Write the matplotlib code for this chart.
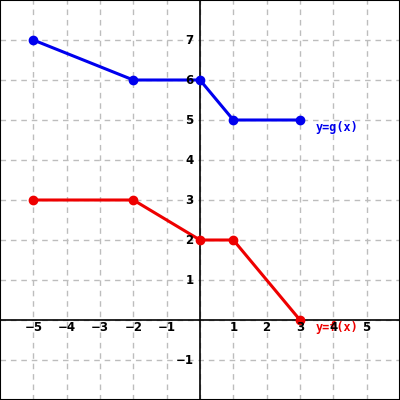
import matplotlib
matplotlib.use("Agg")
import matplotlib.pyplot as plt

# piecewise-linear graphs
f_x = [-5, -2, 0, 1, 3]
f_y = [3, 3, 2, 2, 0]
g_x = [-5, -2, 0, 1, 3]
g_y = [7, 6, 6, 5, 5]

x_ticks = [-5, -4, -3, -2, -1, 1, 2, 3, 4, 5]
y_ticks = [-1, 1, 2, 3, 4, 5, 6, 7]

fig = plt.figure(figsize=(4, 4), dpi=100)
ax = fig.add_axes([0, 0, 1, 1])
ax.set_xlim(-6, 6)
ax.set_ylim(-2, 8)

# dashed grid at every integer
for gx in range(-5, 6):
    ax.axvline(gx, color="#bdbdbd", lw=1, ls=(0, (4, 3.5)), zorder=0)
for gy in range(-1, 8):
    ax.axhline(gy, color="#bdbdbd", lw=1, ls=(0, (4, 3.5)), zorder=0)

ax.axhline(0, color="black", lw=1.2, zorder=1)
ax.axvline(0, color="black", lw=1.2, zorder=1)

ax.plot(g_x, g_y, color="#0000ee", lw=2.2, marker="o", ms=6, zorder=3)
ax.plot(f_x, f_y, color="#ee0000", lw=2.2, marker="o", ms=6, zorder=3)

for t in x_ticks:
    ax.text(t, -0.18, str(t).replace("-", "\u2212"), ha="center", va="center",
            fontsize=8.5, fontweight="bold", family="DejaVu Sans", zorder=4)
for t in y_ticks:
    ax.text(-0.2, t, str(t).replace("-", "\u2212"), ha="right", va="center",
            fontsize=8.5, fontweight="bold", family="DejaVu Sans", zorder=4)

# curve labels (the f label sits under the "4" tick, as in the reference)
ax.text(3.48, 4.82, "y=g(x)", color="#0000ee", fontsize=8.5, fontweight="bold",
        family="DejaVu Sans Mono", ha="left", va="center", zorder=4)
ax.text(3.48, -0.18, "y=f(x)", color="#ee0000", fontsize=8.5, fontweight="bold",
        family="DejaVu Sans Mono", ha="left", va="center", zorder=3.5)

ax.set_xticks([])
ax.set_yticks([])
for s in ax.spines.values():
    s.set_color("black")
    s.set_linewidth(1.5)

fig.savefig("out.png", dpi=100)
